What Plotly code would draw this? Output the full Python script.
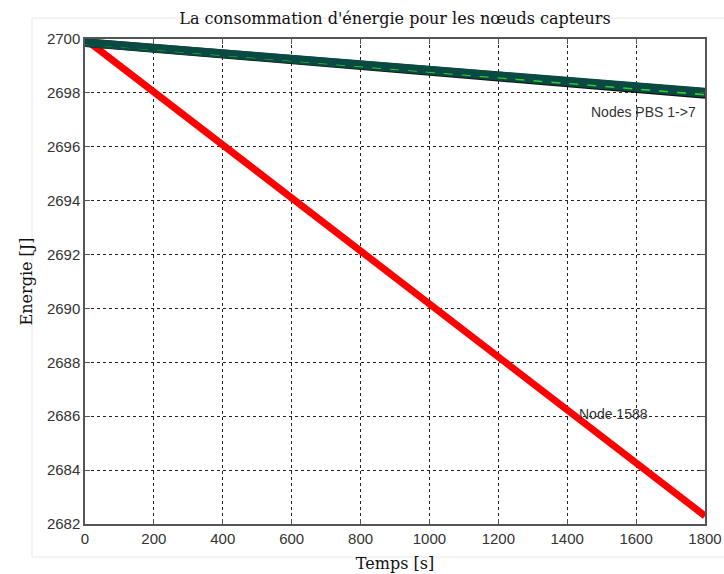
import plotly.graph_objects as go

# Data
time_s = [0, 1800]
node_1588 = [2700.0, 2682.3]
pbs_names = ["PBS 1", "PBS 2", "PBS 3", "PBS 4", "PBS 5", "PBS 6", "PBS 7"]
pbs_start = [2699.94, 2699.79, 2699.76, 2699.86, 2699.88, 2699.83, 2699.91]
pbs_end = [2698.14, 2697.89, 2697.84, 2697.98, 2698.02, 2697.94, 2698.08]
pbs_colors = ["#d8d800", "#d01010", "#111111", "#0a4a42", "#0a4a42", "#2ecc2e", "#0a4a42"]
pbs_widths = [2, 2.5, 3, 8, 8, 2, 6]
pbs_dash = ["solid", "dash", "solid", "solid", "solid", "dash", "solid"]

x_ticks = list(range(0, 1801, 200))
y_ticks = list(range(2682, 2701, 2))

fig = go.Figure()

fig.add_trace(go.Scatter(x=time_s, y=node_1588, mode="lines",
                         line=dict(color="#ff0000", width=7), name="Node 1588",
                         showlegend=False))
for i, nm in enumerate(pbs_names):
    fig.add_trace(go.Scatter(x=time_s, y=[pbs_start[i], pbs_end[i]], mode="lines",
                             line=dict(color=pbs_colors[i], width=pbs_widths[i], dash=pbs_dash[i]),
                             name=nm, showlegend=False))

fig.add_annotation(x=1620, y=2697.3, text="Nodes PBS 1->7", showarrow=False,
                   font=dict(family="Liberation Sans, Arial", size=14, color="#333333"))
fig.add_annotation(x=1535, y=2686.1, text="Node 1588", showarrow=False,
                   font=dict(family="Liberation Sans, Arial", size=14, color="#333333"))

axis_common = dict(showgrid=True, gridcolor="#222222", griddash="dot", gridwidth=1,
                   showline=True, linecolor="#555555", linewidth=1.5, mirror="ticks",
                   ticks="inside", ticklen=5, tickcolor="#555555", zeroline=False,
                   automargin=False,
                   tickfont=dict(family="Liberation Sans, Arial", size=15, color="#333333"))

fig.update_xaxes(range=[0, 1800], tickvals=x_ticks, **axis_common,
                 title=dict(text="Temps [s]", standoff=12,
                            font=dict(family="DejaVu Serif, Liberation Serif", size=16, color="#111111")))
fig.update_yaxes(range=[2682, 2700], tickvals=y_ticks, **axis_common,
                 title=dict(text="Energie [J]", standoff=10,
                            font=dict(family="DejaVu Serif, Liberation Serif", size=16, color="#111111")))

fig.add_shape(type="rect", xref="paper", yref="paper", x0=-0.0855, x1=1.08, y0=-0.068, y1=1.043,
              line=dict(color="#e8e8e8", width=1), layer="below")

fig.update_layout(
    width=724, height=574,
    margin=dict(l=85, r=19, t=39, b=50),
    paper_bgcolor="white", plot_bgcolor="white",
    title=dict(text="La consommation d'énergie pour les nœuds capteurs",
               x=0.5, xref="paper", y=1 - 18 / 574, yref="container", yanchor="middle",
               font=dict(family="DejaVu Serif, Liberation Serif", size=16, color="#111111")),
)

fig.write_html("out.html", config={"displayModeBar": False},
               post_script="document.body.style.margin='0';document.body.style.overflow='hidden';")
